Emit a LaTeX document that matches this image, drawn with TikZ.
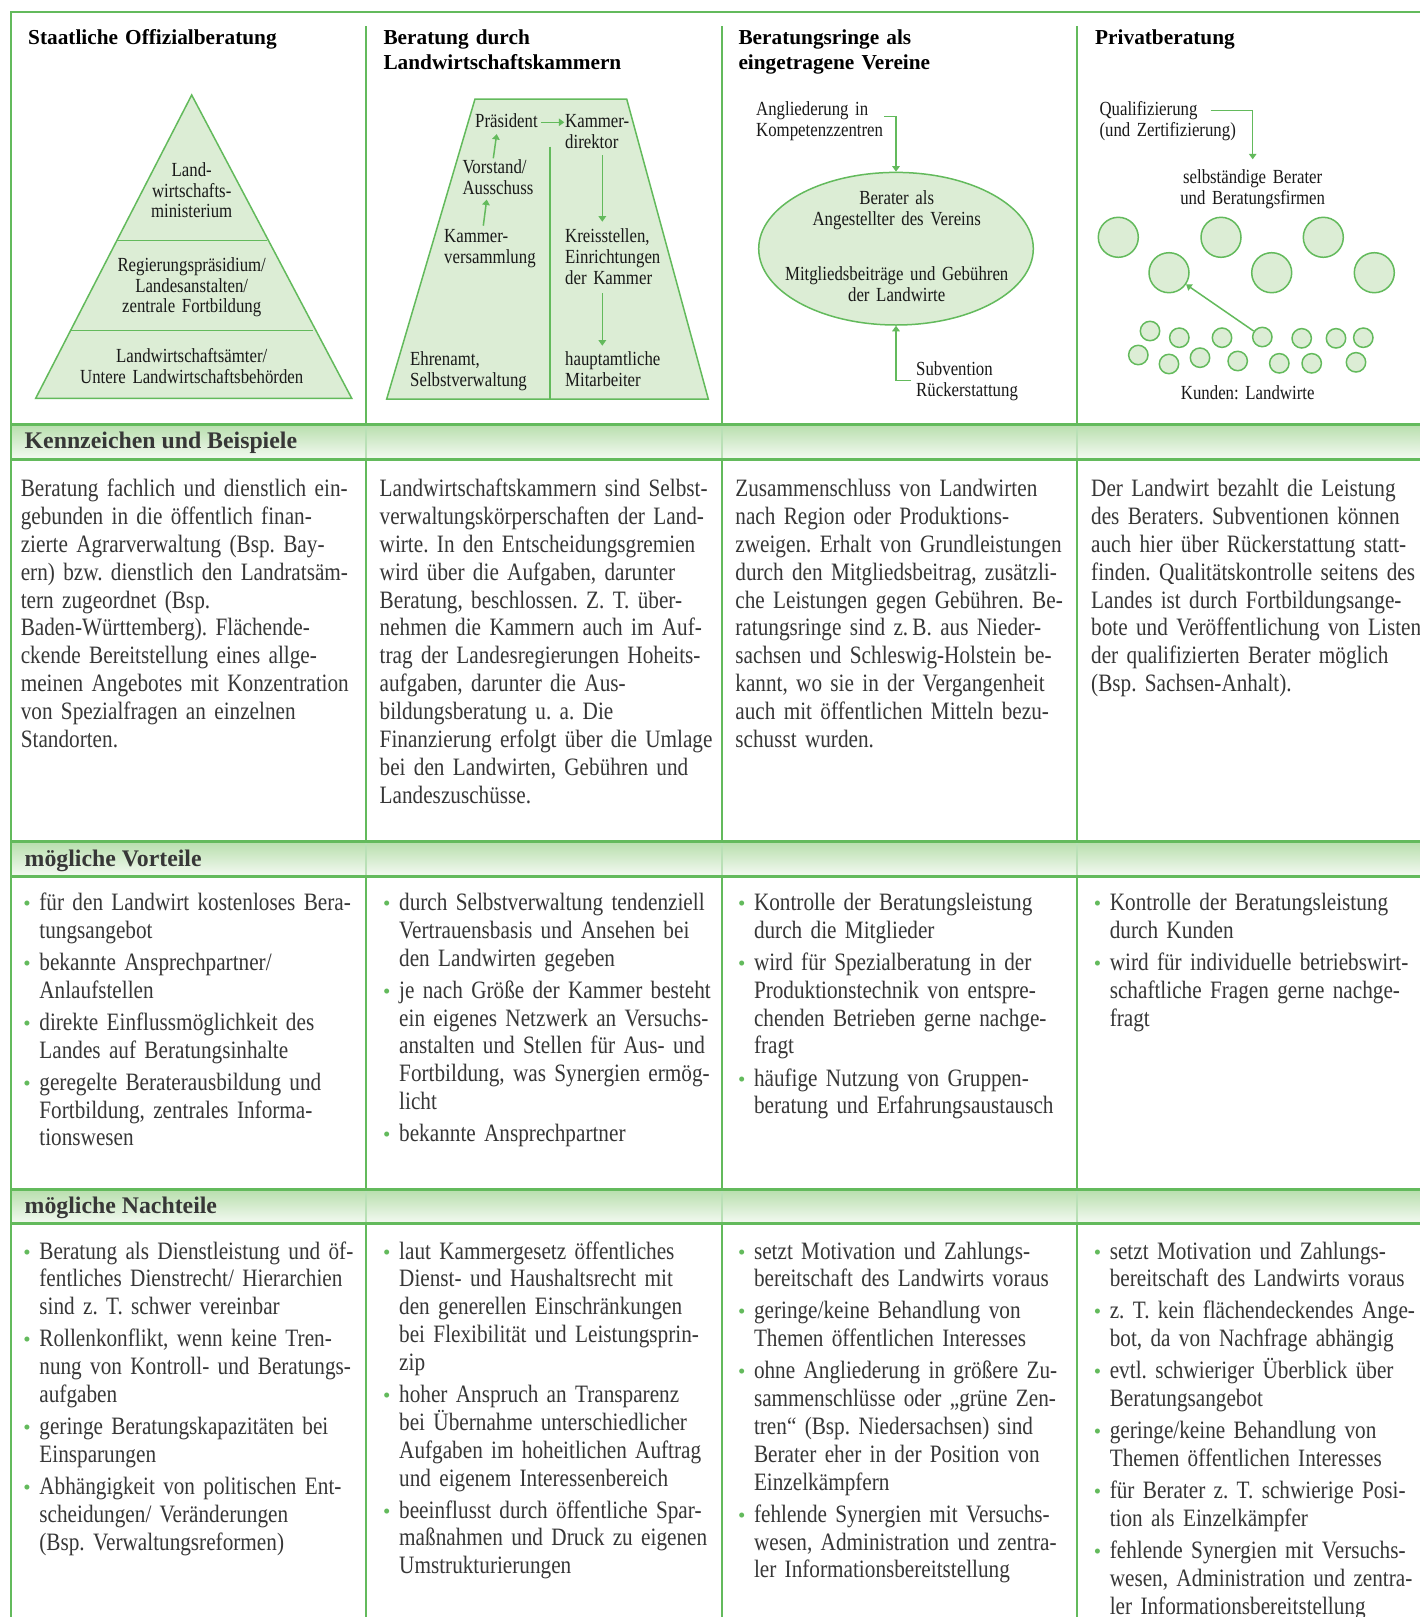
\documentclass[tikz,border=0pt]{standalone}
\usepackage{fontspec}
\setmainfont{Liberation Serif}
\newfontfamily\bodyf[FakeStretch=0.849]{Liberation Serif}
\newfontfamily\diagf[FakeStretch=0.84]{Liberation Serif}
\usetikzlibrary{arrows.meta,shapes.geometric}
\frenchspacing
\definecolor{gline}{RGB}{99,186,92}
\definecolor{gfill}{RGB}{220,237,213}
\definecolor{gtop}{RGB}{183,222,172}
\definecolor{gbot}{RGB}{244,250,242}
\definecolor{btext}{RGB}{55,55,55}
\definecolor{dtext}{RGB}{25,25,25}
\newcommand\bu{\makebox[18.5pt][l]{\hspace*{2.5pt}\textcolor{gline}{\rmfamily\fontsize{21}{21}\selectfont •}}}
\newcommand\ci{\hspace*{18.5pt}}
\newcommand\ig{\\[4.2pt]}
\newcommand\fl{\rule{0pt}{20pt}}
\newcommand\nolsl{\lineskiplimit=-50pt\relax}
\tikzset{
  frameline/.style={draw=gline, line width=2pt},
  bandline/.style={draw=gline, line width=3pt},
  banddiv/.style={draw=gline!45, line width=2pt},
  dshape/.style={draw=gline, fill=gfill, line width=1.5pt},
  dline/.style={draw=gline, line width=1.5pt},
  darr/.style={draw=gline, line width=1.5pt, -{Triangle[width=7.5pt,length=5.5pt]}},
  bodytext/.style={anchor=base west, inner sep=0, text width=520pt, align=left, text=btext,
     font={\bodyf\fontsize{25}{27.85}\selectfont\nolsl}},
  titletext/.style={anchor=base west, inner sep=0, text width=340pt, align=left, text=black,
     font={\fontsize{21.3}{25.7}\selectfont\bfseries\nolsl}},
  bandtext/.style={anchor=base west, inner sep=0, text=btext, font={\fontsize{23.8}{28}\selectfont\bfseries}},
  dlab/.style={inner sep=0, text=dtext, font={\diagf\fontsize{20}{20.8}\selectfont\nolsl}},
  dlabl/.style={dlab, anchor=base west, text width=250pt, align=left},
  dlabc/.style={dlab, anchor=base, text width=300pt, align=center},
  bigc/.style={circle, draw=gline, fill=gfill, line width=1.5pt, minimum size=40pt, inner sep=0},
  smallc/.style={circle, draw=gline, fill=gfill, line width=1.5pt, minimum size=19.4pt, inner sep=0},
}
\begin{document}
\begin{tikzpicture}[x=1pt,y=-1pt]
\useasboundingbox (0,0) rectangle (1420,1617);
\clip (0,0) rectangle (1420,1617);
\fill[white] (0,0) rectangle (1420,1617);

% frame and column dividers
\draw[frameline] (10,12) -- (1430,12);
\draw[frameline] (366,26) -- (366,1617);
\draw[frameline] (722,26) -- (722,1617);
\draw[frameline] (1077,26) -- (1077,1617);

% bands
\foreach \t/\b in {424/459, 841.5/876, 1189/1223.5}{
  \shade[top color=gtop, bottom color=gbot] (11,\t) rectangle (1430,\b);
  \draw[banddiv] (366,\t) -- (366,\b);
  \draw[banddiv] (722,\t) -- (722,\b);
  \draw[banddiv] (1077,\t) -- (1077,\b);
  \draw[bandline] (10,\t) -- (1430,\t);
  \draw[bandline] (10,\b) -- (1430,\b);
}
\draw[frameline] (11,11) -- (11,1617);

% column titles
\node[titletext] (h1) at (28,44) {Staatliche Offizialberatung};
\node[titletext] (h2) at (383.3,44) {Beratung durch\\Landwirtschaftskammern};
\node[titletext] (h3) at (738.3,44) {Beratungsringe als\\eingetragene Vereine};
\node[titletext] (h4) at (1095,44) {Privatberatung};

% ---------- Diagram 1: pyramid
\draw[dshape] (191.7,95) -- (351.7,398.3) -- (35.7,398.3) -- cycle;
\draw[dline] (116.8,240.7) -- (266.6,240.7);
\draw[dline] (70.5,330.7) -- (312.9,330.7);
\node[dlabc] (p1) at (191.7,176.2) {Land-\\wirtschafts-\\ministerium};
\node[dlabc] (p2) at (191.7,271.2) {Regierungspräsidium/\\Landesanstalten/\\zentrale Fortbildung};
\node[dlabc] (p3) at (191.7,362.2) {Landwirtschaftsämter/\\Untere Landwirtschaftsbehörden};

% ---------- Diagram 2: trapezium
\draw[dshape] (475,99) -- (626.7,99) -- (708.3,399) -- (386.7,399) -- cycle;
\draw[dline] (550,146.7) -- (550,399);
\node[dlabl] (praes) at (475,127.8) {Präsident};
\node[dlabl] (kdir) at (565,127.8) {Kammer-\\direktor};
\node[dlabl] (vorst) at (462.3,173.2) {Vorstand/\\Ausschuss};
\node[dlabl] (kvers) at (444,242.2) {Kammer-\\versammlung};
\node[dlabl] (kreis) at (565,242.8) {Kreisstellen,\\Einrichtungen\\der Kammer};
\node[dlabl] (haupt) at (565,365.5) {hauptamtliche\\Mitarbeiter};
\node[dlabl] (ehren) at (410,365.5) {Ehrenamt,\\Selbstverwaltung};
\coordinate (a1s) at (541,122.3); \coordinate (a1e) at (564.3,122.3);
\coordinate (a2s) at (493.3,158.3); \coordinate (a2e) at (496.7,134);
\coordinate (a3s) at (483.3,225.7); \coordinate (a3e) at (486.7,199.5);
\coordinate (a4s) at (602.3,155); \coordinate (a4e) at (602.3,221.7);
\coordinate (a5s) at (602.3,293.3); \coordinate (a5e) at (602.3,345.7);
\draw[darr] (a1s) -- (a1e);
\draw[darr] (a2s) -- (a2e);
\draw[darr] (a3s) -- (a3e);
\draw[darr] (a4s) -- (a4e);
\draw[darr] (a5s) -- (a5e);

% ---------- Diagram 3: ellipse
\node[ellipse, draw=gline, fill=gfill, line width=1.5pt, minimum width=274.6pt, minimum height=152.6pt, inner sep=0] (ell) at (896,248.7) {};
\node[dlabc] (e1) at (896.7,204.5) {Berater als\\Angestellter des Vereins};
\node[dlabc] (e2) at (896.7,280.5) {Mitgliedsbeiträge und Gebühren\\der Landwirte};
\node[dlabl] (angl) at (756,115.5) {Angliederung in\\Kompetenzzentren};
\node[dlabl] (subv) at (916,375.5) {Subvention\\Rückerstattung};
\coordinate (q3s) at (884,116.7);
\coordinate (q4s) at (911,380.7);
\draw[darr] (q3s) -| (ell.north);
\draw[darr] (q4s) -| (ell.south);

% ---------- Diagram 4: circles
\node[dlabl] (qual) at (1099.3,115.5) {Qualifizierung\\(und Zertifizierung)};
\node[dlabc] (selb) at (1252.7,183.8) {selbständige Berater\\und Beratungsfirmen};
\node[dlabc] (kund) at (1247.7,399.8) {Kunden: Landwirte};
\coordinate (q1) at (1210.7,110.7);
\coordinate (q2) at (1252.7,159.3);
\draw[darr] (q1) -| (q2);
\node[bigc] (B1) at (1118.3,237.3) {};
\node[bigc] (B2) at (1221,237.3) {};
\node[bigc] (B3) at (1323.3,237.3) {};
\node[bigc] (B4) at (1169,272.7) {};
\node[bigc] (B5) at (1271.7,272.7) {};
\node[bigc] (B6) at (1374.3,272.7) {};
\node[smallc] (K1) at (1150,331) {};
\node[smallc] (K2) at (1179.3,337.7) {};
\node[smallc] (K3) at (1222,337.7) {};
\node[smallc] (K4) at (1262.3,337) {};
\node[smallc] (K5) at (1301.7,338.3) {};
\node[smallc] (K6) at (1336,338.3) {};
\node[smallc] (K7) at (1363.3,337.7) {};
\node[smallc] (K8) at (1138.3,355) {};
\node[smallc] (K9) at (1169,364) {};
\node[smallc] (K10) at (1200,357.7) {};
\node[smallc] (K11) at (1237.7,361) {};
\node[smallc] (K12) at (1279.3,363.3) {};
\node[smallc] (K13) at (1311.7,363.3) {};
\node[smallc] (K14) at (1356,362.3) {};
\draw[darr] (K4) -- (B4);

% ---------- band labels
\node[bandtext] (lk) at (24.5,448.3) {Kennzeichen und Beispiele};
\node[bandtext] (lv) at (24.5,866) {mögliche Vorteile};
\node[bandtext] (ln) at (24.5,1213.5) {mögliche Nachteile};

% ---------- Kennzeichen
\node[bodytext] (k1) at (20.6,496.7) {\fl Beratung fachlich und dienstlich ein-\\
gebunden in die öffentlich finan-\\
zierte Agrarverwaltung (Bsp. Bay-\\
ern) bzw. dienstlich den Landratsäm-\\
tern zugeordnet (Bsp.\\
Baden-Württemberg). Flächende-\\
ckende Bereitstellung eines allge-\\
meinen Angebotes mit Konzentration\\
von Spezialfragen an einzelnen\\
Standorten.};
\node[bodytext] (k2) at (379.5,496.7) {\fl Landwirtschaftskammern sind Selbst-\\
verwaltungskörperschaften der Land-\\
wirte. In den Entscheidungsgremien\\
wird über die Aufgaben, darunter\\
Beratung, beschlossen. Z. T. über-\\
nehmen die Kammern auch im Auf-\\
trag der Landesregierungen Hoheits-\\
aufgaben, darunter die Aus-\\
bildungsberatung u. a. Die\\
Finanzierung erfolgt über die Umlage\\
bei den Landwirten, Gebühren und\\
Landeszuschüsse.};
\node[bodytext] (k3) at (735.2,496.7) {\fl Zusammenschluss von Landwirten\\
nach Region oder Produktions-\\
zweigen. Erhalt von Grundleistungen\\
durch den Mitgliedsbeitrag, zusätzli-\\
che Leistungen gegen Gebühren. Be-\\
ratungsringe sind z.\,B. aus Nieder-\\
sachsen und Schleswig-Holstein be-\\
kannt, wo sie in der Vergangenheit\\
auch mit öffentlichen Mitteln bezu-\\
schusst wurden.};
\node[bodytext] (k4) at (1091,496.7) {\fl Der Landwirt bezahlt die Leistung\\
des Beraters. Subventionen können\\
auch hier über Rückerstattung statt-\\
finden. Qualitätskontrolle seitens des\\
Landes ist durch Fortbildungsange-\\
bote und Veröffentlichung von Listen\\
der qualifizierten Berater möglich\\
(Bsp. Sachsen-Anhalt).};

% ---------- Vorteile
\node[bodytext] (v1) at (20.7,910.5) {\fl\bu für den Landwirt kostenloses Bera-\\
\ci tungsangebot\ig
\bu bekannte Ansprechpartner/\\
\ci Anlaufstellen\ig
\bu direkte Einflussmöglichkeit des\\
\ci Landes auf Beratungsinhalte\ig
\bu geregelte Beraterausbildung und\\
\ci Fortbildung, zentrales Informa-\\
\ci tionswesen};
\node[bodytext] (v2) at (380.5,910.5) {\fl\bu durch Selbstverwaltung tendenziell\\
\ci Vertrauensbasis und Ansehen bei\\
\ci den Landwirten gegeben\ig
\bu je nach Größe der Kammer besteht\\
\ci ein eigenes Netzwerk an Versuchs-\\
\ci anstalten und Stellen für Aus- und\\
\ci Fortbildung, was Synergien ermög-\\
\ci licht\ig
\bu bekannte Ansprechpartner};
\node[bodytext] (v3) at (735.3,910.5) {\fl\bu Kontrolle der Beratungsleistung\\
\ci durch die Mitglieder\ig
\bu wird für Spezialberatung in der\\
\ci Produktionstechnik von entspre-\\
\ci chenden Betrieben gerne nachge-\\
\ci fragt\ig
\bu häufige Nutzung von Gruppen-\\
\ci beratung und Erfahrungsaustausch};
\node[bodytext] (v4) at (1091.1,910.5) {\fl\bu Kontrolle der Beratungsleistung\\
\ci durch Kunden\ig
\bu wird für individuelle betriebswirt-\\
\ci schaftliche Fragen gerne nachge-\\
\ci fragt};

% ---------- Nachteile
\node[bodytext] (n1) at (20.7,1259) {\fl\bu Beratung als Dienstleistung und öf-\\
\ci fentliches Dienstrecht/ Hierarchien\\
\ci sind z. T. schwer vereinbar\ig
\bu Rollenkonflikt, wenn keine Tren-\\
\ci nung von Kontroll- und Beratungs-\\
\ci aufgaben\ig
\bu geringe Beratungskapazitäten bei\\
\ci Einsparungen\ig
\bu Abhängigkeit von politischen Ent-\\
\ci scheidungen/ Veränderungen\\
\ci (Bsp. Verwaltungsreformen)};
\node[bodytext] (n2) at (380.5,1259) {\fl\bu laut Kammergesetz öffentliches\\
\ci Dienst- und Haushaltsrecht mit\\
\ci den generellen Einschränkungen\\
\ci bei Flexibilität und Leistungsprin-\\
\ci zip\ig
\bu hoher Anspruch an Transparenz\\
\ci bei Übernahme unterschiedlicher\\
\ci Aufgaben im hoheitlichen Auftrag\\
\ci und eigenem Interessenbereich\ig
\bu beeinflusst durch öffentliche Spar-\\
\ci maßnahmen und Druck zu eigenen\\
\ci Umstrukturierungen};
\node[bodytext] (n3) at (735.3,1259) {\fl\bu setzt Motivation und Zahlungs-\\
\ci bereitschaft des Landwirts voraus\ig
\bu geringe/keine Behandlung von\\
\ci Themen öffentlichen Interesses\ig
\bu ohne Angliederung in größere Zu-\\
\ci sammenschlüsse oder „grüne Zen-\\
\ci tren“ (Bsp. Niedersachsen) sind\\
\ci Berater eher in der Position von\\
\ci Einzelkämpfern\ig
\bu fehlende Synergien mit Versuchs-\\
\ci wesen, Administration und zentra-\\
\ci ler Informationsbereitstellung};
\node[bodytext] (n4) at (1091.1,1259) {\fl\bu setzt Motivation und Zahlungs-\\
\ci bereitschaft des Landwirts voraus\ig
\bu z. T. kein flächendeckendes Ange-\\
\ci bot, da von Nachfrage abhängig\ig
\bu evtl. schwieriger Überblick über\\
\ci Beratungsangebot\ig
\bu geringe/keine Behandlung von\\
\ci Themen öffentlichen Interesses\ig
\bu für Berater z. T. schwierige Posi-\\
\ci tion als Einzelkämpfer\ig
\bu fehlende Synergien mit Versuchs-\\
\ci wesen, Administration und zentra-\\
\ci ler Informationsbereitstellung};
\end{tikzpicture}
\end{document}
